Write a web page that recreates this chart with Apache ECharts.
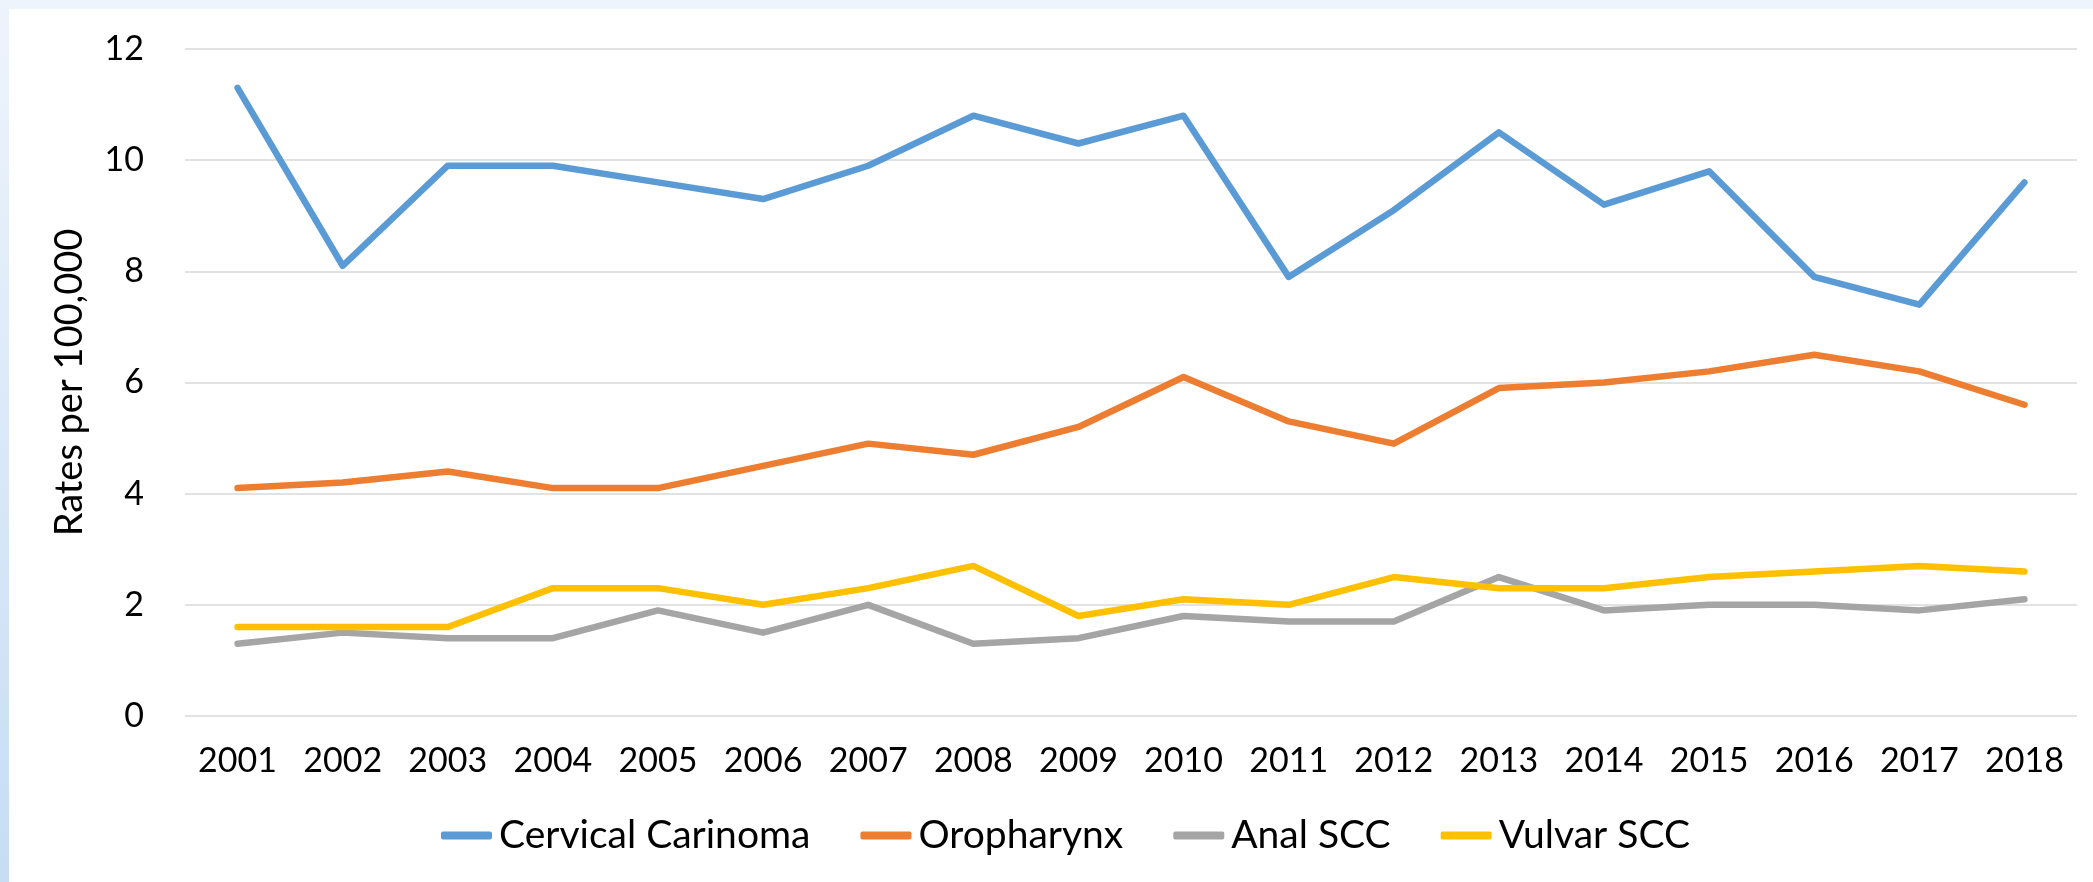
<!DOCTYPE html>
<html>
<head>
<meta charset="utf-8">
<script src="https://cdn.jsdelivr.net/npm/echarts@6/dist/echarts.min.js"></script>
<style>
  html, body {
    margin: 0;
    padding: 0;
    width: 2093px;
    height: 882px;
    overflow: hidden;
    background: linear-gradient(to bottom, #eef4fc, #c6ddf4);
  }
  #chart {
    position: absolute;
    left: 9px;
    top: 9px;
    width: 2084px;
    height: 873px;
    background: #fff;
  }
</style>
</head>
<body>
<div id="chart"></div>
<script>
// 数据
const years = ['2001', '2002', '2003', '2004', '2005', '2006', '2007', '2008', '2009',
  '2010', '2011', '2012', '2013', '2014', '2015', '2016', '2017', '2018']
const cervical = [11.3, 8.1, 9.9, 9.9, 9.6, 9.3, 9.9, 10.8, 10.3, 10.8, 7.9, 9.1, 10.5, 9.2, 9.8, 7.9, 7.4, 9.6]
const oropharynx = [4.1, 4.2, 4.4, 4.1, 4.1, 4.5, 4.9, 4.7, 5.2, 6.1, 5.3, 4.9, 5.9, 6.0, 6.2, 6.5, 6.2, 5.6]
const anal = [1.3, 1.5, 1.4, 1.4, 1.9, 1.5, 2.0, 1.3, 1.4, 1.8, 1.7, 1.7, 2.5, 1.9, 2.0, 2.0, 1.9, 2.1]
const vulvar = [1.6, 1.6, 1.6, 2.3, 2.3, 2.0, 2.3, 2.7, 1.8, 2.1, 2.0, 2.5, 2.3, 2.3, 2.5, 2.6, 2.7, 2.6]
const yTicks = [0, 2, 4, 6, 8, 10, 12]

const font = 'Lato, "Liberation Sans", sans-serif'

const chart = echarts.init(document.getElementById('chart'))

function lineSeries (name, data, color) {
  return {
    name: name,
    type: 'line',
    data: data,
    symbol: 'none',
    showSymbol: false,
    smooth: false,
    lineStyle: { color: color, width: 6.5, cap: 'round', join: 'round' },
    itemStyle: { color: color },
    animation: false
  }
}

const option = {
  // 左右上下间距
  grid: {
    left: 176,
    right: 16,
    top: 40,
    bottom: 166
  },
  legend: {
    left: 427,
    top: 802,
    icon: 'roundRect',
    itemWidth: 51,
    itemHeight: 8,
    itemGap: 50,
    itemStyle: { borderWidth: 0 },
    textStyle: { fontFamily: font, fontSize: 39, color: '#000', padding: [0, 0, 0, 2] },
    data: ['Cervical Carinoma', 'Oropharynx', 'Anal SCC', 'Vulvar SCC']
  },
  xAxis: {
    type: 'category',
    data: years,
    boundaryGap: true,
    axisLine: { show: false },
    axisTick: { show: false },
    axisLabel: { fontFamily: font, fontSize: 34, color: '#000', margin: 28, interval: 0 }
  },
  yAxis: {
    type: 'value',
    min: yTicks[0],
    max: yTicks[yTicks.length - 1],
    interval: 2,
    name: 'Rates per 100,000',
    nameLocation: 'middle',
    nameGap: 96,
    nameTextStyle: { fontFamily: font, fontSize: 38, color: '#000' },
    axisLine: { show: false },
    axisTick: { show: false },
    axisLabel: { fontFamily: font, fontSize: 34, color: '#000', margin: 41 },
    splitLine: { lineStyle: { color: '#d9d9d9', width: 1.5 } }
  },
  series: [
    lineSeries('Cervical Carinoma', cervical, '#5b9bd5'),
    lineSeries('Oropharynx', oropharynx, '#ed7d31'),
    lineSeries('Anal SCC', anal, '#a5a5a5'),
    lineSeries('Vulvar SCC', vulvar, '#ffc000')
  ]
}

chart.setOption(option)
</script>
</body>
</html>
